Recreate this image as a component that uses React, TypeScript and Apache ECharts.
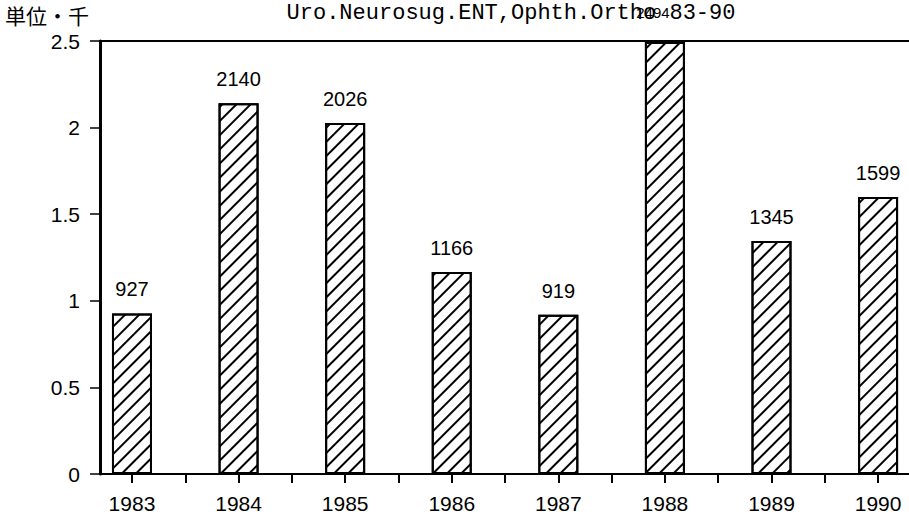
import React, { useEffect, useRef } from "react";
import * as echarts from "echarts";

const years = [1983, 1984, 1985, 1986, 1987, 1988, 1989, 1990];
const values = [927, 2140, 2026, 1166, 919, 2494, 1345, 1599];
const yTickLabels = ["0", "0.5", "1", "1.5", "2", "2.5"];
const xTickValues = [1983, 1983.5, 1984, 1984.5, 1985, 1985.5, 1986, 1986.5, 1987, 1987.5, 1988, 1988.5, 1989, 1989.5, 1990];
const titleText = "Uro.Neurosug.ENT,Ophth.Ortho 83-90";
const unitText = "単位・千";

const FONT = "'Liberation Sans', Arial, sans-serif";

export default function App() {
  const ref = useRef<HTMLDivElement>(null);
  useEffect(() => {
    if (!ref.current) return;
    const chart = echarts.init(ref.current, null, { renderer: "svg" });
    const black = "#000";
    chart.setOption({
      animation: false,
      backgroundColor: "#fff",
      grid: { left: 100, right: 0, top: 41, bottom: 40 },
      xAxis: [
        {
          type: "value",
          min: 1982.7,
          max: 1990.29,
          axisLine: { show: true, onZero: false, lineStyle: { color: black, width: 2 } },
          axisTick: { show: true, customValues: xTickValues, length: 9, lineStyle: { color: black, width: 2 } },
          axisLabel: {
            customValues: years,
            formatter: (v: number) => String(v),
            margin: 19,
            color: black,
            fontSize: 21,
            fontFamily: FONT,
          },
          splitLine: { show: false },
        },
        {
          type: "value",
          position: "top",
          min: 1982.7,
          max: 1990.29,
          axisLine: { show: true, onZero: false, lineStyle: { color: black, width: 2 } },
          axisTick: { show: false },
          axisLabel: { show: false },
          splitLine: { show: false },
        },
      ],
      yAxis: {
        type: "value",
        min: 0,
        max: 2.5,
        interval: 0.5,
        axisLine: { show: true, lineStyle: { color: black, width: 3 } },
        axisTick: { show: true, length: 10, lineStyle: { color: black, width: 1.5 } },
        axisLabel: {
          margin: 20,
          color: black,
          fontSize: 21,
          fontFamily: FONT,
          formatter: (v: number) => yTickLabels[Math.round(v * 2)] ?? String(v),
        },
        splitLine: { show: false },
      },
      series: [
        {
          type: "bar",
          xAxisIndex: 0,
          barWidth: 40,
          data: years.map((y, i) => ({
            value: [y, values[i] / 1000],
            label:
              i === 5
                ? { fontSize: 15, distance: 22, offset: [-12, 0] }
                : undefined,
          })),
          itemStyle: {
            color: "#fff",
            borderColor: black,
            borderWidth: 2,
            decal: {
              symbol: "rect",
              symbolSize: 1,
              symbolKeepAspect: false,
              color: black,
              backgroundColor: "#fff",
              dashArrayX: [1, 0],
              dashArrayY: [1.6, 8],
              rotation: -Math.PI / 4,
            },
          },
          label: {
            show: true,
            position: "top",
            distance: 14,
            color: black,
            fontSize: 20,
            fontFamily: FONT,
            formatter: (p: any) => String(values[p.dataIndex]),
          },
        },
      ],
      graphic: [
        {
          type: "text",
          x: 511,
          y: 13,
          style: {
            text: titleText,
            align: "center",
            verticalAlign: "middle",
            fontSize: 22,
            fontFamily: "'Liberation Mono', 'DejaVu Sans Mono', monospace",
            fill: black,
          },
        },
        {
          type: "text",
          x: 5,
          y: 15,
          style: {
            text: unitText,
            align: "left",
            verticalAlign: "middle",
            fontSize: 21,
            fontFamily: "'Noto Sans CJK JP', sans-serif",
            fill: black,
          },
        },
      ],
    });
    return () => chart.dispose();
  }, []);
  return (
    <div
      ref={ref}
      style={{ position: "absolute", left: 0, top: 0, width: 909, height: 514, background: "#fff" }}
    />
  );
}
